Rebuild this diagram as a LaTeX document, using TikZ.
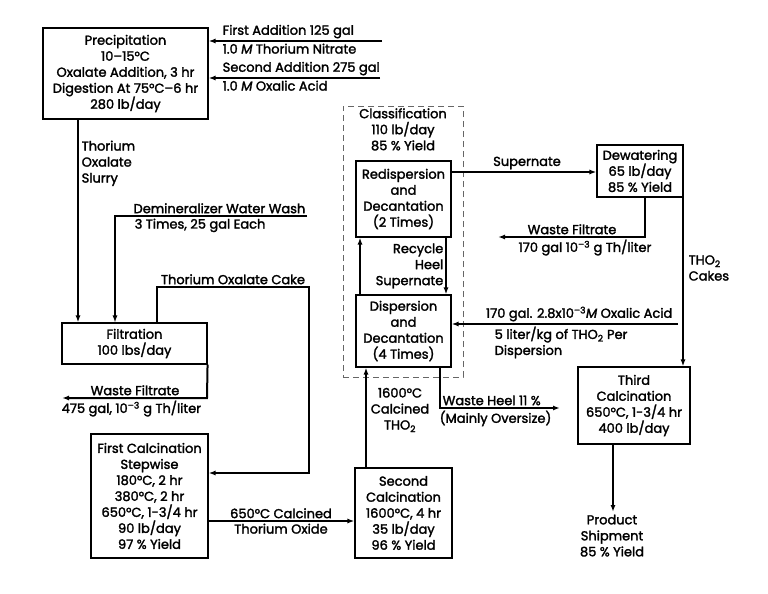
\documentclass[tikz,border=0pt]{standalone}
\usepackage{fontspec}
\setmainfont{Poppins}[FakeBold=2]
\usetikzlibrary{arrows.meta}

\begin{document}
\begin{tikzpicture}[x=1pt,y=-1pt,>={Latex[length=7pt,width=5pt]},
    font=\fontsize{13}{16}\selectfont,
    box/.style={draw,line width=1.1pt,align=center,inner sep=0pt},
    flow/.style={line width=2pt},
    thinflow/.style={line width=1.2pt},
    lbl/.style={inner sep=2.5pt,align=center}]

\useasboundingbox (0,0) rectangle (768,594);

% classification frame
\node[draw,black!60,line width=0.8pt,dash pattern=on 6pt off 4pt,inner sep=0pt,
      minimum width=120pt,minimum height=271pt] (classif) at (403,241.5) {};
\node[lbl,anchor=north] (tClassif) at (classif.north) {Classification\\110 lb/day\\85 \% Yield};

% process boxes
\node[box,minimum width=165pt,minimum height=91pt] (precip) at (125.5,73.5)
  {Precipitation\\10--15°C\\Oxalate Addition, 3 hr\\Digestion At 75°C--6 hr\\280 lb/day};
\node[box,minimum width=145pt,minimum height=41pt] (filt) at (134.5,343.5)
  {Filtration\\100 lbs/day};
\node[box,minimum width=117pt,minimum height=124pt] (calcA) at (149.5,496)
  {First Calcination\\Stepwise\\180°C, 2 hr\\380°C, 2 hr\\650°C, 1-3/4 hr\\90 lb/day\\97 \% Yield};
\node[box,minimum width=97pt,minimum height=90pt] (calcB) at (403.5,513)
  {Second\\Calcination\\1600°C, 4 hr\\35 lb/day\\96 \% Yield};
\node[box,fill=white,minimum width=95pt,minimum height=76pt] (redisp) at (403.5,199)
  {Redispersion\\and\\Decantation\\(2 Times)};
\node[box,fill=white,minimum width=95pt,minimum height=72pt] (disp) at (403.5,331)
  {Dispersion\\and\\Decantation\\(4 Times)};
\node[box,minimum width=86pt,minimum height=52pt] (dewat) at (640,171)
  {Dewatering\\65 lb/day\\85 \% Yield};
\node[box,minimum width=112pt,minimum height=77pt] (calcC) at (634,405.5)
  {Third\\Calcination\\650°C, 1-3/4 hr\\400 lb/day};

% feeds to precipitation
\coordinate (nitrate) at (382,41);
\coordinate (acid) at (380,78);
\draw[flow,->] (nitrate) -- (nitrate -| precip.east);
\draw[flow,->] (acid) -- (acid -| precip.east);
\node[lbl,anchor=south west] (tAddA) at (220,41) {First Addition 125 gal};
\node[lbl,anchor=north west] (tNitrate) at (220,41) {1.0 \textit{M} Thorium Nitrate};
\node[lbl,anchor=south west] (tAddB) at (220,78) {Second Addition 275 gal};
\node[lbl,anchor=north west] (tAcid) at (220,78) {1.0 \textit{M} Oxalic Acid};

% slurry to filtration
\coordinate (slurry) at (78,0);
\draw[flow,->] (slurry |- precip.south) -- (slurry |- filt.north);
\node[lbl,anchor=north west,align=left] (tSlurry) at (79,138) {Thorium\\Oxalate\\Slurry};

% wash water
\coordinate (wash) at (307,216);
\coordinate (washB) at (115,216);
\draw[thinflow,->] (wash) -- (washB) -- (washB |- filt.north);
\node[lbl,anchor=south east] (tWash) at (308,216) {Demineralizer Water Wash};
\node[lbl,anchor=north west] (tWashB) at (132,216) {3 Times, 25 gal Each};

% cake to first calcination
\coordinate (cakeA) at (157,287);
\coordinate (cakeB) at (309,287);
\coordinate (cakeC) at (309,473);
\draw[flow,->] (cakeA |- filt.north) -- (cakeA) -- (cakeB) -- (cakeC) -- (cakeC -| calcA.east);
\node[lbl,anchor=south] (tCake) at (233,287) {Thorium Oxalate Cake};

% waste filtrate
\coordinate (wfA) at (207,398);
\coordinate (wfB) at (62,398);
\draw[flow,->] (filt.south east) -- (wfA) -- (wfB);
\node[lbl,anchor=south] (tWf) at (135,398) {Waste Filtrate};
\node[lbl,anchor=north west] (tWfB) at (59,398) {475 gal, 10\textsuperscript{--3} g Th/liter};

% first to second calcination
\coordinate (oxide) at (0,521);
\draw[flow,->] (oxide -| calcA.east) -- (oxide -| calcB.west);
\node[lbl,anchor=south] (tOxide) at (281,521) {650°C Calcined};
\node[lbl,anchor=north] (tOxideB) at (281,521) {Thorium Oxide};

% second calcination to dispersion
\coordinate (tho) at (366,0);
\draw[flow,->] (tho |- calcB.north) -- (tho |- disp.south);
\node[lbl] (tTho) at (400,410) {1600°C\\Calcined\\THO\textsubscript{2}};

% recycle between dispersion steps
\coordinate (recL) at (360,0);
\coordinate (recR) at (446,0);
\draw[flow,->] (recL |- disp.north) -- (recL |- redisp.south);
\draw[flow,->] (recR |- redisp.south) -- (recR |- disp.north);
\node[lbl,anchor=east,align=right] (tRecycle) at (446,266) {Recycle\\Heel\\Supernate};

% supernate to dewatering
\coordinate (sup) at (0,172);
\draw[flow,->] (sup -| redisp.east) -- (sup -| dewat.west);
\node[lbl,anchor=south] (tSup) at (527,172) {Supernate};

% dewatering filtrate
\coordinate (dwA) at (645,237);
\coordinate (dwB) at (498,237);
\draw[flow,->] (dwA |- dewat.south) -- (dwA) -- (dwB);
\node[lbl,anchor=south] (tDw) at (572,237) {Waste Filtrate};
\node[lbl,anchor=north] (tDwB) at (585,237) {170 gal 10\textsuperscript{--3} g Th/liter};

% cakes to third calcination
\coordinate (cakes) at (683,0);
\draw[flow,->] (cakes |- dewat.south) -- (cakes |- calcC.north);
\node[lbl,anchor=west,align=left] (tCakes) at (686,268) {THO\textsubscript{2}\\Cakes};

% oxalic acid to dispersion
\coordinate (oxal) at (678,324);
\draw[flow,->] (oxal) -- (oxal -| disp.east);
\node[lbl,anchor=south east] (tOxal) at (675,324) {170 gal. 2.8x10\textsuperscript{--3}\textit{M} Oxalic Acid};
\node[lbl,anchor=north west,align=left] (tOxalB) at (492,324) {5 liter/kg of THO\textsubscript{2} Per\\Dispersion};

% waste heel
\coordinate (heelA) at (440,408);
\coordinate (heelB) at (560,408);
\draw[flow,->] (heelA |- disp.south) -- (heelA) -- (heelB);
\node[lbl,anchor=south west] (tHeel) at (440,408) {Waste Heel 11 \%};
\node[lbl,anchor=north west] (tHeelB) at (437,408) {(Mainly Oversize)};

% product
\coordinate (prod) at (613,512);
\draw[flow,->] (prod |- calcC.south) -- (prod);
\node[lbl,anchor=north] (tProd) at (612,512) {Product\\Shipment\\85 \% Yield};

\end{tikzpicture}
\end{document}
